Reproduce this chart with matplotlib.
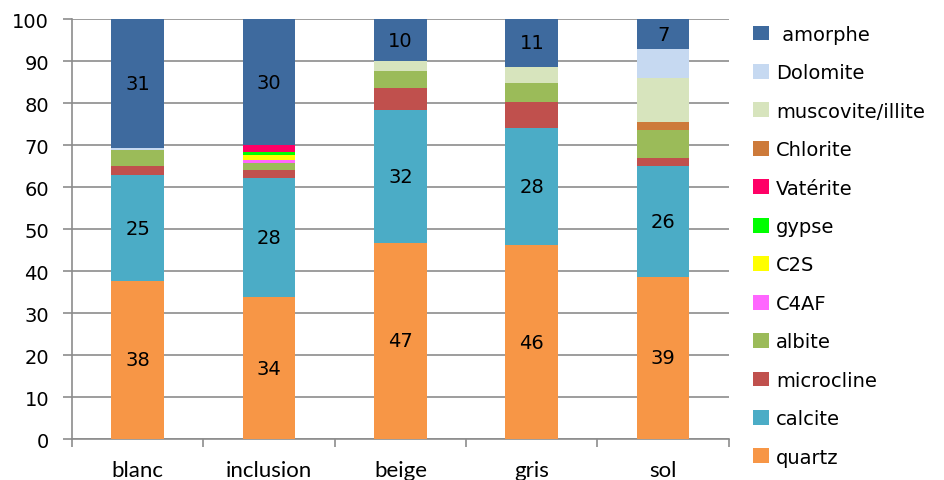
import matplotlib.pyplot as plt
import numpy as np

samples = ['blanc', 'inclusion', 'beige', 'gris', 'sol']

# mineral phases, bottom to top (%)
quartz = [37.7, 33.8, 46.7, 46.2, 38.6]
calcite = [25.1, 28.3, 31.6, 27.8, 26.3]
microcline = [2.1, 1.9, 5.2, 6.2, 2.1]
albite = [3.9, 1.8, 4.1, 4.6, 6.5]
c4af = [0, 0.6, 0, 0, 0]
c2s = [0, 1.2, 0, 0, 0]
gypse = [0, 0.7, 0, 0, 0]
vaterite = [0, 1.7, 0, 0, 0]
chlorite = [0, 0, 0, 0, 2.0]
muscovite = [0, 0, 2.4, 3.9, 10.5]
dolomite = [0.4, 0, 0, 0, 6.9]
amorphe = [30.8, 30.0, 10.0, 11.3, 7.1]

phases = [
    ('quartz', quartz, '#F79646', True),
    ('calcite', calcite, '#4BACC6', True),
    ('microcline', microcline, '#C0504D', False),
    ('albite', albite, '#9BBB59', False),
    ('C4AF', c4af, '#FF66FF', False),
    ('C2S', c2s, '#FFFF00', False),
    ('gypse', gypse, '#00FF00', False),
    ('Vatérite', vaterite, '#FF0066', False),
    ('Chlorite', chlorite, '#CD7A3A', False),
    ('muscovite/illite', muscovite, '#D7E4BD', False),
    ('Dolomite', dolomite, '#C6D9F1', False),
    (' amorphe', amorphe, '#3E6A9E', True),
]

fig = plt.figure(figsize=(9.45, 4.81), dpi=100)
ax = fig.add_axes([0.0762, 0.0852, 0.695, 0.873])

x = np.arange(len(samples))
bottom = np.zeros(len(samples))
for name, vals, color, labelled in phases:
    vals = np.array(vals, dtype=float)
    bars = ax.bar(x, vals, 0.4, bottom=bottom, color=color, label=name, zorder=3)
    if labelled:
        ax.bar_label(bars, labels=['%.0f' % v for v in vals], label_type='center',
                     fontsize=14, family='DejaVu Sans', color='black')
    bottom += vals

ax.set_xlim(-0.5, len(samples) - 0.5)
ax.set_ylim(0, 100)
ax.set_yticks(np.arange(0, 101, 10))
ax.yaxis.grid(True, color='#8C8C8C', linewidth=1.2, zorder=0)
ax.set_axisbelow(True)

ax.set_xticks(x)
ax.set_xticklabels(samples, fontsize=16, family='Lato')
ax.set_xticks(np.arange(-0.5, len(samples)), minor=True)
ax.tick_params(axis='x', which='major', length=0, pad=15)
ax.tick_params(axis='x', which='minor', length=6, color='#8C8C8C', width=1.2)
ax.tick_params(axis='y', labelsize=14, length=6.5, color='#8C8C8C', width=1.2, pad=10)

for side in ['top', 'right']:
    ax.spines[side].set_visible(False)
for side in ['left', 'bottom']:
    ax.spines[side].set_color('#8C8C8C')
    ax.spines[side].set_linewidth(1.2)

handles, labels = ax.get_legend_handles_labels()
ax.legend(handles[::-1], labels[::-1], loc='upper left', bbox_to_anchor=(1.025, 1.005),
          frameon=False, fontsize=14, handlelength=0.82, handleheight=0.8,
          handletextpad=0.36, labelspacing=1.0, borderaxespad=0)

fig.savefig('out.png', dpi=100)
